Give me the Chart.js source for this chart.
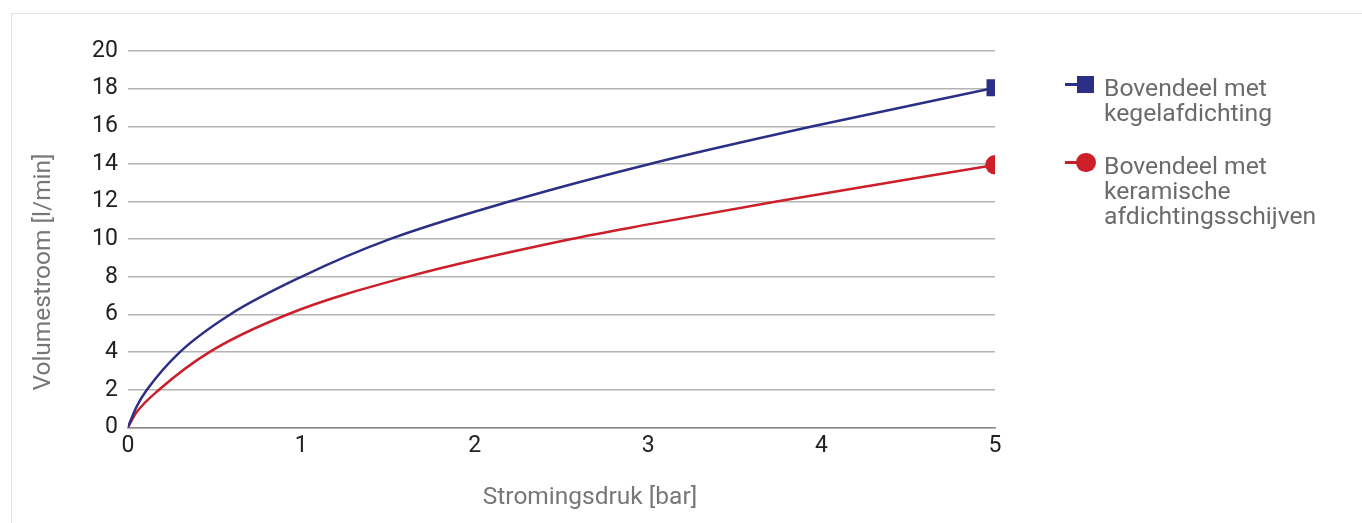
<!DOCTYPE html>
<html>
<head>
<meta charset="utf-8">
<script src="https://cdn.jsdelivr.net/npm/chart.js@4/dist/chart.umd.min.js"></script>
<style>
  body { margin: 0; background: #fff; font-family: Roboto, sans-serif; }
  #frame { position: absolute; left: 11px; top: 13px; width: 1400px; height: 600px; border: 1px solid #e2e2e2; }
  #wrap { position: absolute; left: 0; top: 0; width: 1362px; height: 523px; }
  .as-titel { position: absolute; color: #777; font-size: 24.5px; line-height: 30px; height: 30px; text-align: center; white-space: nowrap; }
  #x-titel { left: 440px; top: 481px; width: 300px; }
  #y-titel { left: -108px; top: 257px; width: 300px; transform: rotate(-90deg); }
  .legend { position: absolute; left: 1065px; top: 0; color: #6b6b6b; font-size: 24.7px; line-height: 25px; }
  .item { position: absolute; left: 0; width: 290px; }
  .ln { position: absolute; left: 0; width: 14px; height: 2.5px; }
  .sq { position: absolute; left: 12px; top: 1px; width: 17px; height: 17px; }
  .dot { position: absolute; left: 11px; top: 0; width: 19.5px; height: 19.5px; border-radius: 50%; }
  .txt { position: absolute; left: 39px; top: 0; white-space: nowrap; }
</style>
</head>
<body>
<div id="frame"></div>
<div id="wrap"><canvas id="grafiek" width="1362" height="523"></canvas></div>
<div class="as-titel" id="y-titel">Volumestroom [l/min]</div>
<div class="as-titel" id="x-titel">Stromingsdruk [bar]</div>
<div class="legend">
  <div class="item" style="top:74.5px">
    <div class="ln" style="top:8.5px;background:#2b3086"></div><div class="sq" style="background:#2b3086"></div>
    <div class="txt">Bovendeel met<br>kegelafdichting</div>
  </div>
  <div class="item" style="top:152.5px">
    <div class="ln" style="top:8.5px;background:#cc1f29"></div><div class="dot" style="background:#cc1f29"></div>
    <div class="txt">Bovendeel met<br>keramische<br>afdichtingsschijven</div>
  </div>
</div>
<script>
// Gegevens
const drukKegel = [0, 0.05, 0.11, 0.30, 0.59, 1.0, 1.51, 2.2, 3.01, 3.95, 5];
const stroomKegel = [0, 1.1, 2, 4, 6, 8, 10, 12, 14, 16, 18.05];
const drukKeramisch = [0, 0.05, 0.18, 0.47, 0.92, 1.61, 2.55, 3.01, 3.74, 5];
const stroomKeramisch = [0, 0.8, 2, 4, 6, 8, 10, 10.8, 12, 13.95];
const xTicks = [0, 1, 2, 3, 4, 5];
const yTicks = [0, 2, 4, 6, 8, 10, 12, 14, 16, 18, 20];

function punten(xs, ys) {
    return xs.map((x, i) => ({ x: x, y: ys[i] }));
}
// alleen het laatste punt krijgt een marker
function eindMarker(xs, r) {
    return xs.map((x, i) => i === xs.length - 1 ? r : 0);
}

const ctx = document.getElementById('grafiek').getContext('2d');
new Chart(ctx, {
    type: 'line',
    data: {
        datasets: [
            {
                label: 'Bovendeel met kegelafdichting',
                data: punten(drukKegel, stroomKegel),
                borderColor: '#2b3086',
                backgroundColor: '#2b3086',
                borderWidth: 2.5,
                pointStyle: 'rect',
                pointRadius: eindMarker(drukKegel, 12),
                pointBorderWidth: 0,
                cubicInterpolationMode: 'monotone'
            },
            {
                label: 'Bovendeel met keramische afdichtingsschijven',
                data: punten(drukKeramisch, stroomKeramisch),
                borderColor: '#cc1f29',
                backgroundColor: '#cc1f29',
                borderWidth: 2.5,
                pointStyle: 'circle',
                pointRadius: eindMarker(drukKeramisch, 9.75),
                pointBorderWidth: 0,
                cubicInterpolationMode: 'monotone'
            }
        ]
    },
    options: {
        responsive: false,
        animation: false,
        devicePixelRatio: 1,
        layout: { padding: { left: 82, right: 367, top: 51, bottom: 58 } },
        plugins: { legend: { display: false }, tooltip: { enabled: false } },
        scales: {
            x: {
                type: 'linear',
                min: 0, max: 5,
                afterBuildTicks: s => { s.ticks = xTicks.map(v => ({ value: v })); },
                grid: { display: false, drawTicks: false },
                border: { display: true, color: '#8a8a8a', width: 1.5 },
                ticks: { color: '#222', font: { family: 'Roboto', size: 23 }, padding: 5 }
            },
            y: {
                min: 0, max: 20,
                afterBuildTicks: s => { s.ticks = yTicks.map(v => ({ value: v })); },
                grid: { color: '#b4b4b4', lineWidth: 1.5, drawTicks: false },
                border: { display: false },
                ticks: { color: '#222', font: { family: 'Roboto', size: 23 }, padding: 10 }
            }
        }
    }
});
</script>
</body>
</html>
